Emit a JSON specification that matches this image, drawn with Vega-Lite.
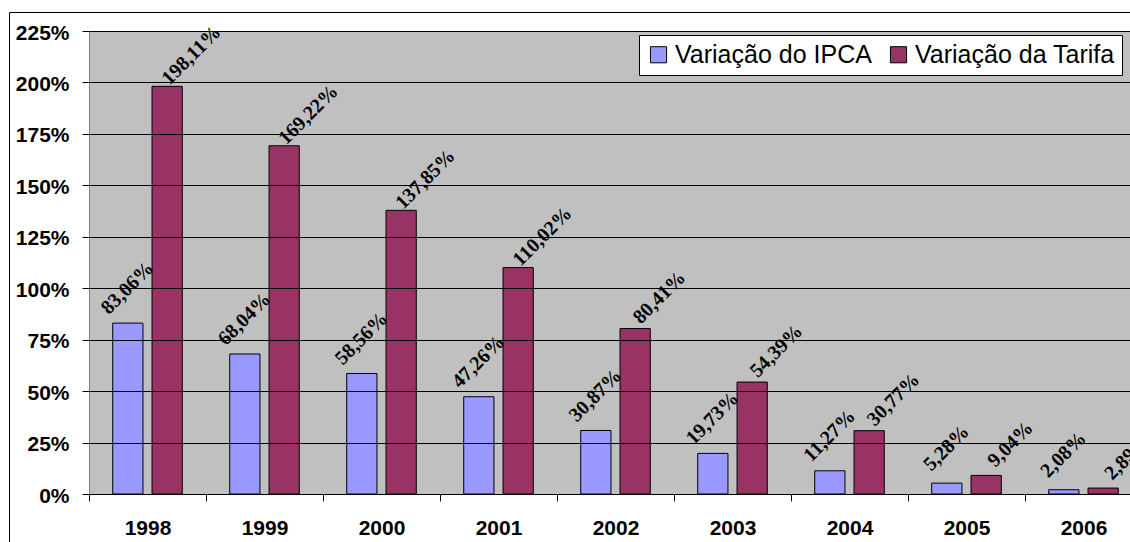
{
  "$schema": "https://vega.github.io/schema/vega-lite/v6.json",
  "width": 1053,
  "height": 463,
  "autosize": {"type": "none"},
  "padding": {"left": 89, "top": 31, "right": -12, "bottom": 48},
  "background": "white",
  "config": {
    "locale": {"number": {"decimal": ",", "thousands": ".", "grouping": [3], "currency": ["R$", ""]}},
    "view": {"fill": "#C0C0C0", "stroke": "#808080", "strokeWidth": 1}
  },
  "data": {
    "values": [
      {"Ano": "1998", "serie": "Variação do IPCA", "valor": 0.8306},
      {"Ano": "1998", "serie": "Variação da Tarifa", "valor": 1.9811},
      {"Ano": "1999", "serie": "Variação do IPCA", "valor": 0.6804},
      {"Ano": "1999", "serie": "Variação da Tarifa", "valor": 1.6922},
      {"Ano": "2000", "serie": "Variação do IPCA", "valor": 0.5856},
      {"Ano": "2000", "serie": "Variação da Tarifa", "valor": 1.3785},
      {"Ano": "2001", "serie": "Variação do IPCA", "valor": 0.4726},
      {"Ano": "2001", "serie": "Variação da Tarifa", "valor": 1.1002},
      {"Ano": "2002", "serie": "Variação do IPCA", "valor": 0.3087},
      {"Ano": "2002", "serie": "Variação da Tarifa", "valor": 0.8041},
      {"Ano": "2003", "serie": "Variação do IPCA", "valor": 0.1973},
      {"Ano": "2003", "serie": "Variação da Tarifa", "valor": 0.5439},
      {"Ano": "2004", "serie": "Variação do IPCA", "valor": 0.1127},
      {"Ano": "2004", "serie": "Variação da Tarifa", "valor": 0.3077},
      {"Ano": "2005", "serie": "Variação do IPCA", "valor": 0.0528},
      {"Ano": "2005", "serie": "Variação da Tarifa", "valor": 0.0904},
      {"Ano": "2006", "serie": "Variação do IPCA", "valor": 0.0208},
      {"Ano": "2006", "serie": "Variação da Tarifa", "valor": 0.0289}
    ]
  },
  "layer": [
    {
      "layer": [
        {
          "mark": {"type": "bar", "stroke": "black", "strokeWidth": 1},
          "encoding": {
            "x": {
              "field": "Ano", "type": "nominal", "title": null,
              "scale": {"paddingInner": 0, "paddingOuter": 0},
              "axis": {
                "orient": "bottom", "labelAngle": 0, "tickBand": "extent",
                "domain": true, "domainColor": "black", "domainWidth": 1,
                "ticks": true, "tickColor": "black", "tickSize": 7, "tickWidth": 1,
                "grid": false,
                "labelFont": "Liberation Sans", "labelFontWeight": "bold", "labelFontSize": 21,
                "labelColor": "black", "labelPadding": 16
              }
            },
            "xOffset": {
              "field": "serie", "type": "nominal",
              "sort": ["Variação do IPCA", "Variação da Tarifa"],
              "scale": {"domain": ["Variação do IPCA", "Variação da Tarifa"], "paddingInner": 0.2308, "paddingOuter": 0.6026}
            },
            "y": {
              "field": "valor", "type": "quantitative", "title": null,
              "scale": {"domain": [0, 2.25], "nice": false},
              "axis": {
                "orient": "left",
                "values": [0, 0.25, 0.5, 0.75, 1, 1.25, 1.5, 1.75, 2, 2.25],
                "format": ".0%",
                "domain": false,
                "grid": true, "gridColor": "#000000", "gridWidth": 1, "gridOpacity": 1,
                "ticks": true, "tickColor": "#000000", "tickSize": 7, "tickWidth": 1,
                "labelFont": "Liberation Sans", "labelFontWeight": "bold", "labelFontSize": 21,
                "labelColor": "black", "labelPadding": 13, "labelOffset": 2,
                "zindex": 1
              }
            },
            "color": {
              "field": "serie", "type": "nominal",
              "scale": {"domain": ["Variação do IPCA", "Variação da Tarifa"], "range": ["#9999FF", "#993366"]},
              "legend": {
                "orient": "none", "legendX": 550, "legendY": 4,
                "direction": "horizontal", "title": null,
                "fillColor": "white", "strokeColor": "black", "padding": 7,
                "symbolType": "square", "symbolSize": 260, "symbolStrokeColor": "black",
                "symbolStrokeWidth": 1, "symbolOpacity": 1,
                "labelFont": "Liberation Sans", "labelFontSize": 25, "labelColor": "black",
                "labelOffset": 4, "columnPadding": 14, "labelLimit": 400
              }
            }
          }
        },
        {
          "transform": [{"filter": "datum.serie === 'Variação do IPCA'"}],
          "mark": {
            "type": "text", "angle": -45, "align": "center", "baseline": "middle",
            "font": "Liberation Serif", "fontWeight": "bold", "fontSize": 20, "color": "black",
            "xOffset": -20, "yOffset": -35
          },
          "encoding": {
            "x": {"field": "Ano", "type": "nominal"},
            "y": {"field": "valor", "type": "quantitative"},
            "text": {"field": "valor", "type": "quantitative", "format": ".2%"}
          }
        },
        {
          "transform": [{"filter": "datum.serie === 'Variação da Tarifa'"}],
          "mark": {
            "type": "text", "angle": -45, "align": "center", "baseline": "middle",
            "font": "Liberation Serif", "fontWeight": "bold", "fontSize": 20, "color": "black",
            "xOffset": 44, "yOffset": -31
          },
          "encoding": {
            "x": {"field": "Ano", "type": "nominal"},
            "y": {"field": "valor", "type": "quantitative"},
            "text": {"field": "valor", "type": "quantitative", "format": ".2%"}
          }
        }
      ]
    },
    {
      "mark": {"type": "point", "opacity": 0},
      "encoding": {
        "x": {
          "field": "Ano", "type": "nominal", "title": null,
          "scale": {"range": [-80, 1100]},
          "axis": {"orient": "top", "offset": 19, "domain": true, "domainColor": "black", "domainWidth": 1, "ticks": false, "labels": false, "grid": false}
        },
        "y": {
          "field": "valor", "type": "quantitative", "title": null,
          "scale": {"range": [540, -19]},
          "axis": {"orient": "left", "offset": 80, "domain": true, "domainColor": "black", "domainWidth": 1, "ticks": false, "labels": false, "grid": false}
        }
      }
    }
  ],
  "resolve": {"scale": {"x": "independent", "y": "independent"}}
}
